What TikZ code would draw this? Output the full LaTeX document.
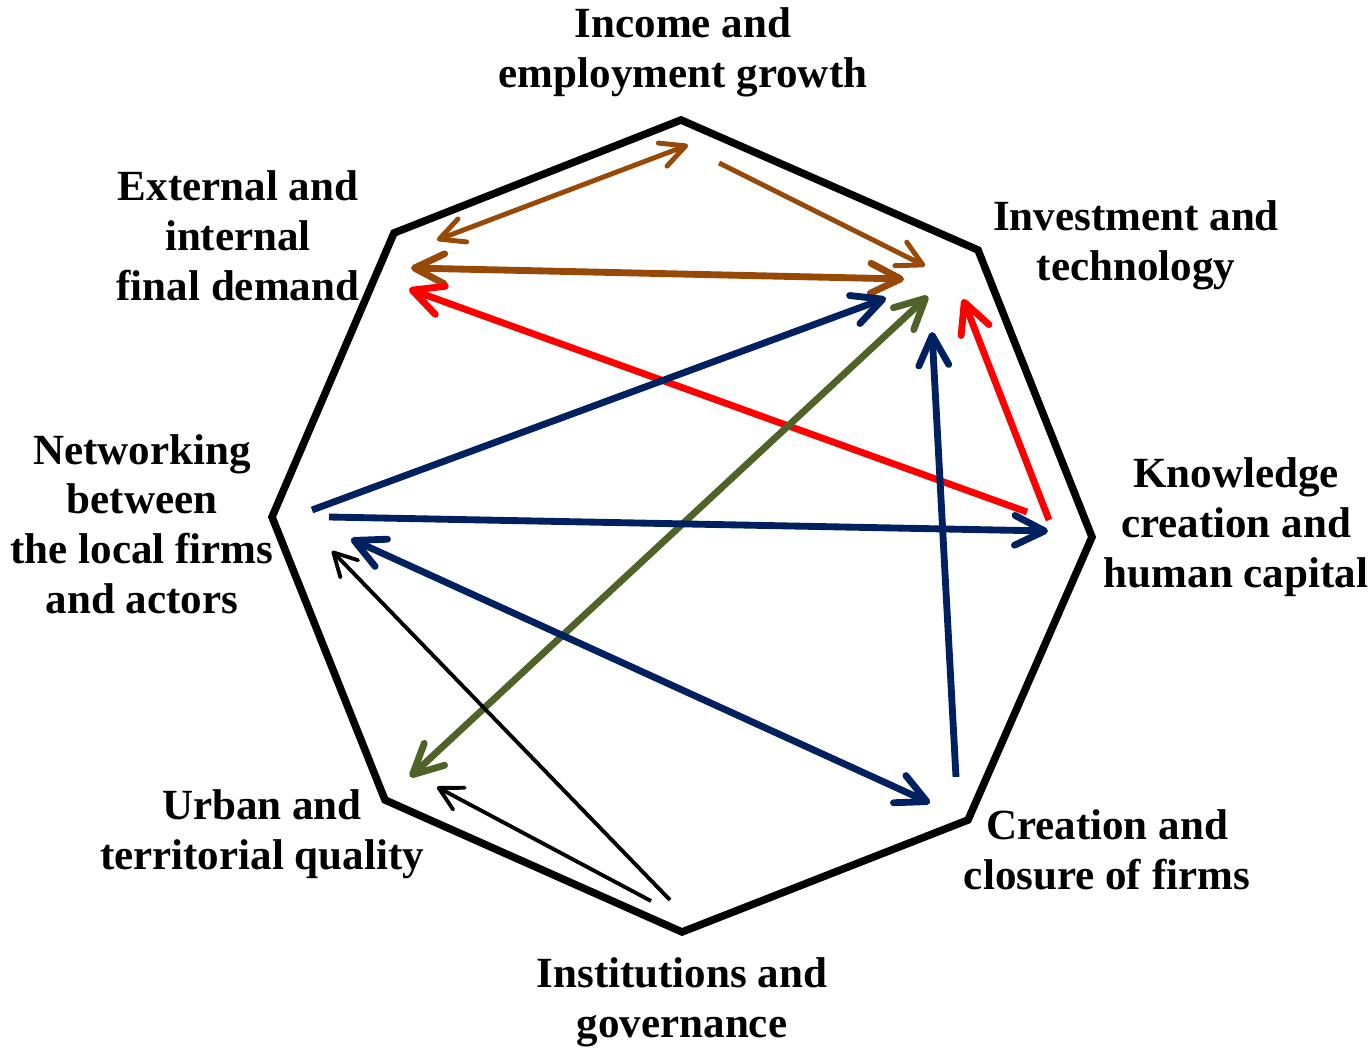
\documentclass[tikz,border=0pt]{standalone}
\usepackage{fontspec}
\setmainfont{Liberation Serif}[BoldFont={Liberation Serif Bold}]
\usetikzlibrary{arrows.meta}

\definecolor{rust}{HTML}{984807}
\definecolor{navy}{HTML}{002060}
\definecolor{olive}{HTML}{4F6228}

\begin{document}
\begin{tikzpicture}[
    x=0.02cm, y=-0.02cm,
    factor/.style={align=center, inner sep=0pt, font=\fontsize{24.5}{28.3}\selectfont\bfseries},
    octagon/.style={line width=4.3pt, black},
    heavy/.style={line width=3.9pt, -{Straight Barb[length=17pt, width=17pt, round]}},
    medium/.style={line width=2.8pt, -{Straight Barb[length=14pt, width=15pt, round]}},
    light/.style={line width=2.2pt, -{Straight Barb[length=13pt, width=14pt, round]}},
    both/.style={{Straight Barb[length=#1, width=#1, round]}-{Straight Barb[length=#1, width=#1, round]}}
]
\useasboundingbox (0,0) rectangle (1370,1050);

% === Octagon ===
\coordinate (v1) at (681,120);
\coordinate (v2) at (978,250);
\coordinate (v3) at (1092,537);
\coordinate (v4) at (968,820);
\coordinate (v5) at (682,932);
\coordinate (v6) at (385,800);
\coordinate (v7) at (272,517);
\coordinate (v8) at (394,233);
\draw[octagon] (v1) -- (v2) -- (v3) -- (v4) -- (v5) -- (v6) -- (v7) -- (v8) -- cycle;

% === Factors ===
\node[factor] (income) at (683,52) {Income and\\employment growth};
\node[factor] (demand) at (238,236) {External and\\internal\\final demand};
\node[factor] (invest) at (1136,245) {Investment and\\technology};
\node[factor] (network) at (142,524) {Networking\\between\\the local firms\\and actors};
\node[factor] (know) at (1236,527) {Knowledge\\creation and\\human capital};
\node[factor] (urban) at (262,834) {Urban and\\territorial quality};
\node[factor] (firms) at (1107,850) {Creation and\\closure of firms};
\node[factor] (inst) at (682,1002) {Institutions and\\governance};

% === Arrow ends ===
\coordinate (dem1) at (437,240);
\coordinate (inc1) at (688,145);
\coordinate (inc2) at (719,163);
\coordinate (inv1) at (925,266);
\coordinate (dem2) at (411,268);
\coordinate (inv2) at (904,279);
\coordinate (kno1) at (1027,512);
\coordinate (dem3) at (409,289);
\coordinate (kno2) at (1049,520);
\coordinate (inv3) at (963,299);
\coordinate (net1) at (312,510);
\coordinate (inv4) at (886,298);
\coordinate (urb1) at (410,777);
\coordinate (inv5) at (928,296);
\coordinate (fir1) at (956,777);
\coordinate (inv6) at (932,332);
\coordinate (net2) at (329,517);
\coordinate (kno3) at (1048,531);
\coordinate (net3) at (351,539);
\coordinate (fir2) at (930,803);
\coordinate (ins1) at (670,900);
\coordinate (net4) at (332,551);
\coordinate (ins2) at (651,901);
\coordinate (urb2) at (437,787);

% === Links ===
\draw[medium, rust, both=14pt] (dem1) -- (inc1);
\draw[medium, rust] (inc2) -- (inv1);
\draw[heavy, rust, both=17pt] (dem2) -- (inv2);
\draw[heavy, red] (kno1) -- (dem3);
\draw[heavy, red] (kno2) -- (inv3);
\draw[heavy, navy] (net1) -- (inv4);
\draw[heavy, olive, both=17pt] (urb1) -- (inv5);
\draw[heavy, navy] (fir1) -- (inv6);
\draw[heavy, navy] (net2) -- (kno3);
\draw[heavy, navy, both=17pt] (net3) -- (fir2);
\draw[light] (ins1) -- (net4);
\draw[light] (ins2) -- (urb2);

\end{tikzpicture}
\end{document}
